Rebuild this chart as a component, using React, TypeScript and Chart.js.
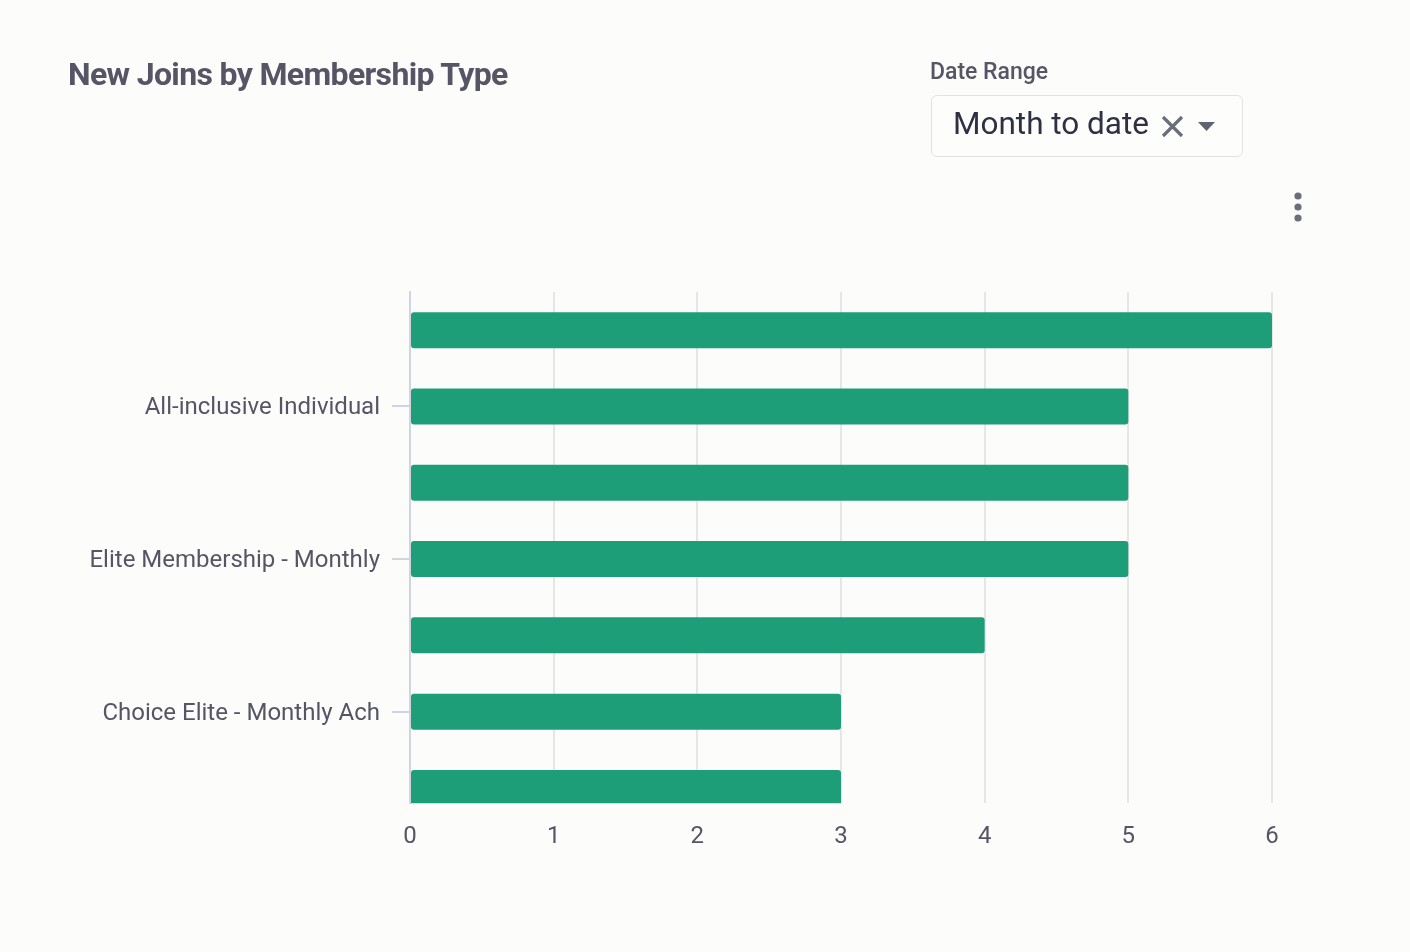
import React, { useEffect, useRef } from "react";
import { Chart, registerables } from "chart.js";

Chart.register(...registerables);

const categories: string[] = [
  "",
  "All-inclusive Individual",
  "",
  "Elite Membership - Monthly",
  "",
  "Choice Elite - Monthly Ach",
  "",
];
const newJoins: number[] = [6, 5, 5, 5, 4, 3, 3];
const xTicks: number[] = [0, 1, 2, 3, 4, 5, 6];

const TEXT = "#555566";

export default function App() {
  const ref = useRef<HTMLCanvasElement | null>(null);

  useEffect(() => {
    document.body.style.margin = "0";
    const canvas = ref.current;
    if (!canvas) return;
    const chart = new Chart(canvas, {
      type: "bar",
      data: {
        labels: categories,
        datasets: [
          {
            data: newJoins,
            backgroundColor: "#1d9e78",
            borderRadius: 3,
            borderSkipped: false,
            categoryPercentage: 1,
            barPercentage: 0.472,
          },
        ],
      },
      options: {
        indexAxis: "y",
        animation: false,
        responsive: false,
        maintainAspectRatio: false,
        layout: { padding: { top: 292, right: 138, bottom: 82, left: 0 } },
        plugins: { legend: { display: false }, tooltip: { enabled: false } },
        scales: {
          x: {
            min: xTicks[0],
            max: xTicks[xTicks.length - 1],
            afterBuildTicks: (scale: any) => {
              scale.ticks = xTicks.map((v) => ({ value: v }));
            },
            grid: { color: "#e6e6e6", lineWidth: 2, drawTicks: false },
            border: { display: false },
            ticks: {
              padding: 19,
              color: TEXT,
              font: { family: "Roboto", size: 24 },
            },
          },
          y: {
            afterBuildTicks: (scale: any) => {
              scale._valueRange = 6.7;
            },
            afterFit: (scale: any) => {
              scale.width = 410;
            },
            grid: {
              offset: false,
              drawOnChartArea: false,
              drawTicks: true,
              tickLength: 18,
              lineWidth: 2,
              color: (ctx: any) => (ctx.index % 2 === 1 ? "#cfd4df" : "rgba(0,0,0,0)"),
            },
            border: { display: true, color: "#cfd4df", width: 2 },
            ticks: {
              autoSkip: false,
              padding: 12,
              labelOffset: 2,
              color: TEXT,
              font: { family: "Roboto", size: 24 },
            },
          },
        },
      },
    });
    return () => chart.destroy();
  }, []);

  return (
    <div
      style={{
        position: "absolute",
        left: 0,
        top: 0,
        width: 1410,
        height: 952,
        background: "#fcfcfa",
        fontFamily: "Roboto, sans-serif",
        overflow: "hidden",
      }}
    >
      <canvas
        ref={ref}
        width={1410}
        height={952}
        style={{ position: "absolute", left: 0, top: 0, width: 1410, height: 952 }}
      />
      <div
        style={{
          position: "absolute",
          left: 68,
          top: 55,
          fontSize: 32,
          fontWeight: 700,
          color: TEXT,
          letterSpacing: -0.65,
          whiteSpace: "nowrap",
        }}
      >
        New Joins by Membership Type
      </div>
      <div
        style={{
          position: "absolute",
          left: 930,
          top: 58,
          fontSize: 23,
          fontWeight: 500,
          color: TEXT,
          whiteSpace: "nowrap",
        }}
      >
        Date Range
      </div>
      <div
        style={{
          position: "absolute",
          left: 931,
          top: 95,
          width: 310,
          height: 60,
          border: "1px solid #e2e2e2",
          borderRadius: 6,
          background: "#fdfdfc",
          boxSizing: "content-box",
        }}
      >
        <span
          style={{
            position: "absolute",
            left: 21,
            top: 9,
            fontSize: 31.5,
            color: "#2f3142",
            whiteSpace: "nowrap",
          }}
        >
          Month to date
        </span>
        <svg
          style={{ position: "absolute", left: 228, top: 18 }}
          width={26}
          height={26}
          viewBox="0 0 26 26"
        >
          <path d="M3 3 L22 22 M22 3 L3 22" stroke="#6b6e7a" strokeWidth={3.2} />
        </svg>
        <svg
          style={{ position: "absolute", left: 266, top: 25 }}
          width={18}
          height={12}
          viewBox="0 0 18 12"
        >
          <path d="M0 1 L17 1 L8.5 10 Z" fill="#5f6270" />
        </svg>
      </div>
      <svg
        style={{ position: "absolute", left: 1290, top: 190 }}
        width={16}
        height={36}
        viewBox="0 0 16 36"
      >
        <circle cx={8} cy={6} r={3.6} fill="#6b6e7a" />
        <circle cx={8} cy={17} r={3.6} fill="#6b6e7a" />
        <circle cx={8} cy={28} r={3.6} fill="#6b6e7a" />
      </svg>
    </div>
  );
}
